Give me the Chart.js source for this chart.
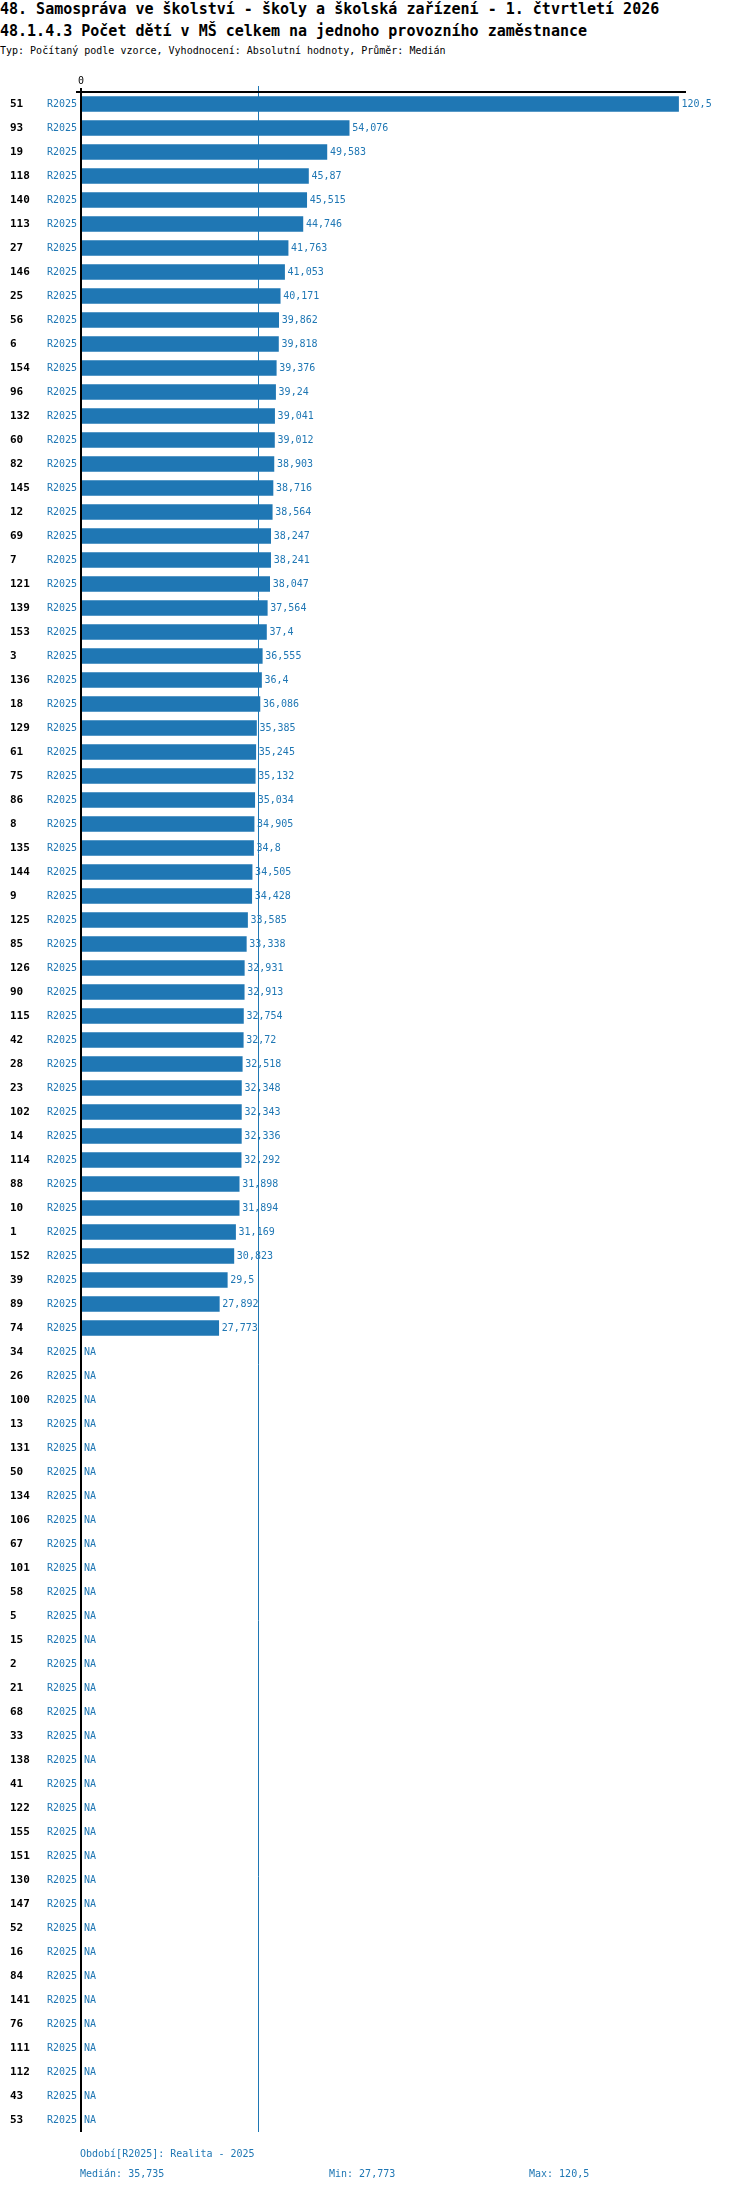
<!DOCTYPE html>
<html>
<head>
<meta charset="utf-8">
<script src="https://cdn.jsdelivr.net/npm/chart.js@4/dist/chart.umd.min.js"></script>
<style>
  body { margin: 0; background: #fff; }
  #wrap { position: relative; width: 750px; height: 2192px; font-family: "DejaVu Sans Mono", monospace; }
  #wrap div { position: absolute; white-space: pre; }
  .t1 { font-size: 15px; font-weight: bold; line-height: 18px; color: #000; left: 0; }
  .sub { font-size: 10px; line-height: 12px; color: #000; left: 0; top: 45px; }
  .foot { font-size: 10px; line-height: 12px; color: #1f77b4; }
  canvas { position: absolute; left: 0; top: 0; }
</style>
</head>
<body>
<div id="wrap">
  <div class="t1" style="top:0px">48. Samospráva ve školství - školy a školská zařízení - 1. čtvrtletí 2026</div>
  <div class="t1" style="top:22px">48.1.4.3 Počet dětí v MŠ celkem na jednoho provozního zaměstnance</div>
  <div class="sub">Typ: Počítaný podle vzorce, Vyhodnocení: Absolutní hodnoty, Průměr: Medián</div>
  <canvas id="chart" width="750" height="2192"></canvas>
  <div class="foot" style="left:80px;top:2148px">Období[R2025]: Realita - 2025</div>
  <div class="foot" id="fMed" style="left:80px;top:2168px"></div>
  <div class="foot" id="fMin" style="left:329px;top:2168px"></div>
  <div class="foot" id="fMax" style="left:529px;top:2168px"></div>
</div>
<script>
// Row ids (units) in the order shown
const rowIds = ["51","93","19","118","140","113","27","146","25","56","6","154","96","132","60","82","145","12","69","7","121","139","153","3","136","18","129","61","75","86","8","135","144","9","125","85","126","90","115","42","28","23","102","14","114","88","10","1","152","39","89","74",
  "34","26","100","13","131","50","134","106","67","101","58","5","15","2","21","68","33","138","41","122","155","151","130","147","52","16","84","141","76","111","112","43","53"];

// Period label for every row
const period = "R2025";

// Values (null = NA)
const values = [120.5,54.076,49.583,45.87,45.515,44.746,41.763,41.053,40.171,39.862,39.818,39.376,39.24,39.041,39.012,38.903,38.716,38.564,38.247,38.241,38.047,37.564,37.4,36.555,36.4,36.086,35.385,35.245,35.132,35.034,34.905,34.8,34.505,34.428,33.585,33.338,32.931,32.913,32.754,32.72,32.518,32.348,32.343,32.336,32.292,31.898,31.894,31.169,30.823,29.5,27.892,27.773,
  null,null,null,null,null,null,null,null,null,null,null,null,null,null,null,null,null,null,null,null,null,null,null,null,null,null,null,null,null,null,null,null,null];

// Summary stats shown in the footer
const medianValue = 35.735;
const minValue = 27.773;
const maxValue = 120.5;

const blue = "#1f77b4";
const fmt = v => String(v).replace(".", ",");

document.getElementById("fMed").textContent = "Medián: " + fmt(medianValue);
document.getElementById("fMin").textContent = "Min: " + fmt(minValue);
document.getElementById("fMax").textContent = "Max: " + fmt(maxValue);

// Draw axis, median line and labels
const decor = {
    id: "decor",
    beforeDatasetsDraw(chart) {
        const c = chart.ctx, a = chart.chartArea, x = chart.scales.x;
        const mx = Math.round(x.getPixelForValue(medianValue)) + 0.5;
        c.save();
        c.strokeStyle = blue;
        c.lineWidth = 1;
        c.beginPath();
        c.moveTo(mx, a.top - 6);
        c.lineTo(mx, a.bottom);
        c.stroke();
        c.restore();
    },
    afterDatasetsDraw(chart) {
        const c = chart.ctx, a = chart.chartArea, x = chart.scales.x, y = chart.scales.y;
        const x0 = x.getPixelForValue(0);
        c.save();
        // axis lines
        c.strokeStyle = "#000";
        c.lineWidth = 2;
        c.beginPath();
        c.moveTo(x0, a.top - 4);
        c.lineTo(x0, a.bottom);
        c.moveTo(x0 - 5, a.top);
        c.lineTo(a.right, a.top);
        c.stroke();
        // zero tick label
        c.fillStyle = "#000";
        c.font = "10px 'DejaVu Sans Mono'";
        c.textAlign = "center";
        c.textBaseline = "middle";
        c.fillText("0", x0, a.top - 11);
        // row labels
        rowIds.forEach((id, i) => {
            const py = y.getPixelForValue(i);
            c.textBaseline = "middle";
            c.textAlign = "left";
            c.fillStyle = "#000";
            c.font = "bold 11px 'DejaVu Sans Mono'";
            c.fillText(id, 10, py);
            c.fillStyle = blue;
            c.font = "10px 'DejaVu Sans Mono'";
            c.textAlign = "right";
            c.fillText(period, x0 - 4, py);
            c.textAlign = "left";
            const v = values[i];
            if (v == null) {
                c.fillText("NA", x0 + 3, py);
            } else {
                c.fillText(fmt(v), x.getPixelForValue(v) + 3, py);
            }
        });
        c.restore();
    }
};

new Chart(document.getElementById("chart"), {
    type: "bar",
    data: {
        labels: rowIds,
        datasets: [{
            data: values,
            backgroundColor: blue,
            barThickness: 15,
            borderWidth: 0
        }]
    },
    options: {
        indexAxis: "y",
        responsive: false,
        animation: false,
        devicePixelRatio: 1,
        layout: { padding: { left: 81, right: 64, top: 92, bottom: 60 } },
        scales: {
            x: { display: false, min: 0, max: 122 },
            y: { display: false }
        },
        plugins: {
            legend: { display: false },
            tooltip: { enabled: false }
        }
    },
    plugins: [decor]
});
</script>
</body>
</html>
